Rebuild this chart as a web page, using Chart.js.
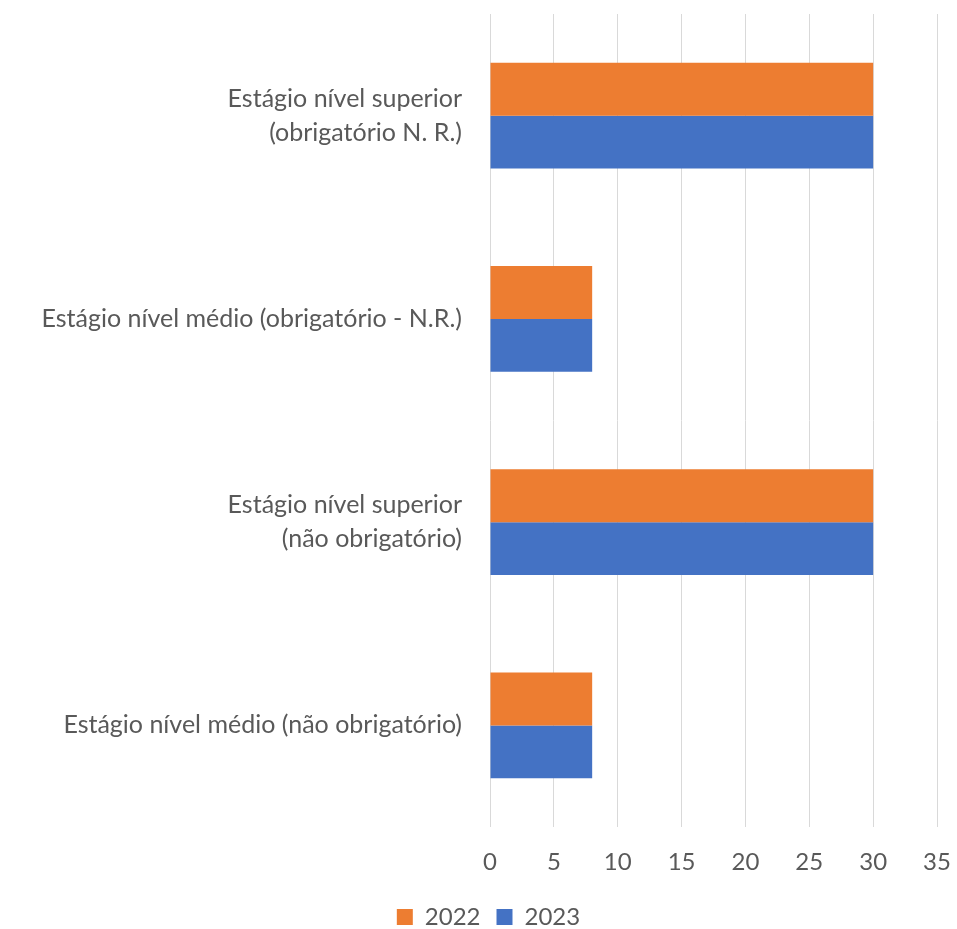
<!DOCTYPE html>
<html>
<head>
<meta charset="utf-8">
<script src="https://cdn.jsdelivr.net/npm/chart.js@4/dist/chart.umd.min.js"></script>
<style>
  html, body { margin: 0; padding: 0; background: #fff; }
  #wrap { width: 957px; height: 929px; position: relative; }
</style>
</head>
<body>
<div id="wrap"><canvas id="estagioChart"></canvas></div>
<script>
/* data */
const categories = [
  ['Estágio nível superior', '(obrigatório N. R.)'],
  'Estágio nível médio (obrigatório - N.R.)',
  ['Estágio nível superior', '(não obrigatório)'],
  'Estágio nível médio (não obrigatório)'
];
const seriesNames = ['2022', '2023'];
const values2022 = [30, 8, 30, 8];
const values2023 = [30, 8, 30, 8];
const xTicks = [0, 5, 10, 15, 20, 25, 30, 35];

const COL = { orange: '#ED7D31', blue: '#4472C4', text: '#595959', grid: '#D9D9D9' };
const FAMILY = "Lato, 'Open Sans', sans-serif";

new Chart(document.getElementById('estagioChart'), {
  type: 'bar',
  data: {
    labels: categories,
    datasets: [
      { label: seriesNames[0], data: values2022, backgroundColor: COL.orange, borderWidth: 0 },
      { label: seriesNames[1], data: values2023, backgroundColor: COL.blue, borderWidth: 0 }
    ]
  },
  options: {
    indexAxis: 'y',
    responsive: true, maintainAspectRatio: false, animation: false,
    // left padding nudges the centred legend right; y axis width makes up for it
    layout: { padding: { top: 14, right: 20, bottom: -10, left: 40 } },
    datasets: { bar: { barPercentage: 1, categoryPercentage: 0.52 } },
    plugins: {
      legend: {
        position: 'bottom',
        labels: {
          font: { family: FAMILY, size: 24, lineHeight: 1 }, color: COL.text,
          boxWidth: 16, boxHeight: 16, padding: 16
        }
      },
      tooltip: { enabled: false }
    },
    scales: {
      x: {
        min: 0, max: 35,
        afterBuildTicks: s => { s.ticks = xTicks.map(v => ({ value: v })); },
        grid: { color: COL.grid, lineWidth: 1, drawTicks: false },
        border: { display: false },
        ticks: { font: { family: FAMILY, size: 24 }, color: COL.text, padding: 21, maxRotation: 0 },
        afterFit: s => { s.height = 62; s.paddingLeft = 0; s.paddingRight = 0; }
      },
      y: {
        grid: { display: false, drawTicks: false },
        border: { display: false },
        ticks: { font: { family: FAMILY, size: 25, lineHeight: 1.36 }, color: COL.text, padding: 28 },
        afterFit: s => { s.width = 450; s.paddingTop = 0; s.paddingBottom = 0; }
      }
    }
  }
});
</script>
</body>
</html>
